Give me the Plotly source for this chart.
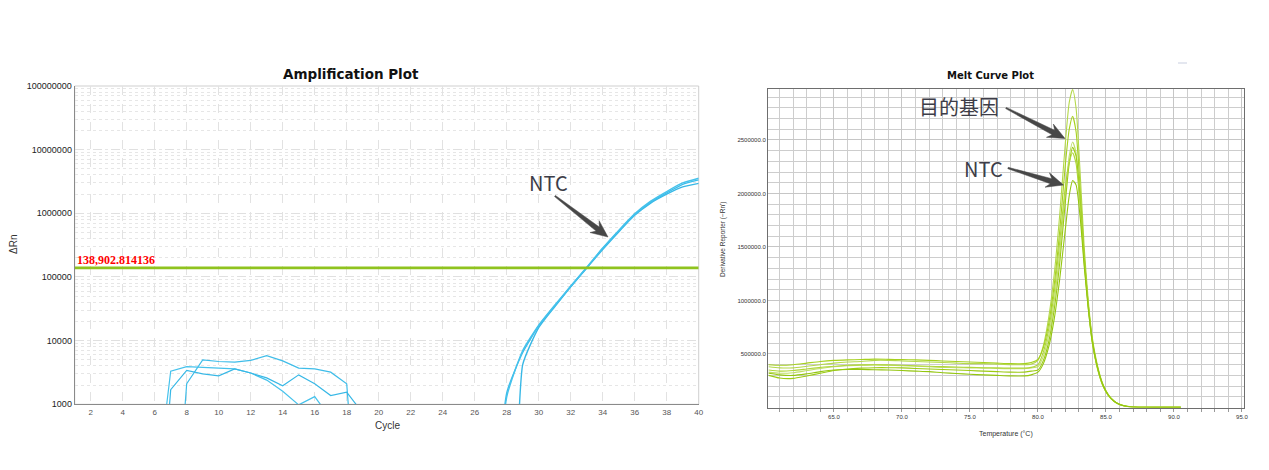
import math
import plotly.graph_objects as go

W, H = 1269, 470
OFF = 8                      # default page body margin
FW, FH = W - 2 * OFF, H - 2 * OFF

# ---------------- Amplification plot data ----------------
cycle_ticks = [2, 4, 6, 8, 10, 12, 14, 16, 18, 20, 22, 24, 26, 28, 30, 32, 34, 36, 38, 40]
rn_tickvals = [1000, 10000, 100000, 1000000, 10000000, 100000000]
rn_ticktext = ["1000", "10000", "100000", "1000000", "10000000", "100000000"]

threshold = 138902.814136
threshold_label = "138,902.814136"

noise_a_cycles = [7, 8, 9, 10, 11, 12, 13, 14, 15, 16, 17, 18, 19]
noise_a = [1, 2100, 5000, 4700, 4600, 4900, 5800, 4800, 3700, 3600, 3200, 2100, 1]

noise_b_cycles = [6, 7, 8, 9, 10, 11, 12, 13, 14, 15, 16, 17, 18]
noise_b = [27, 3300, 3900, 3800, 3700, 3600, 3100, 2400, 1600, 980, 1320, 600, 1]

noise_c_cycles = [6, 7, 8, 9, 10, 11, 12, 13, 14, 15, 16, 17, 18, 19, 20]
noise_c = [1, 1700, 3400, 3000, 2800, 3600, 3100, 2600, 1950, 2900, 2100, 1370, 1550, 730, 1]

ntc_cycles = [27, 28, 29, 30, 31, 32, 33, 34, 35, 36, 37, 38, 39, 40]
ntc_1 = [1, 1500, 6500, 17000, 35000, 71000, 140000, 280000, 530000, 960000, 1500000, 2100000, 2850000, 3350000]
ntc_2 = [1, 1300, 7000, 17500, 36000, 72000, 142000, 285000, 540000, 980000, 1550000, 2200000, 3000000, 3550000]
ntc_3 = [1, 1, 4200, 16000, 34000, 70000, 138000, 270000, 510000, 930000, 1450000, 2000000, 2600000, 2950000]

# ---------------- Melt curve data ----------------
melt_temp = [60.2, 61, 62, 63, 64, 65, 66, 67, 68, 69, 70, 71, 72, 73, 74, 75, 76, 77, 78, 79, 79.5,
             80, 80.4, 80.8, 81.2, 81.6, 82.0, 82.3, 82.55, 82.8, 83.1, 83.4, 83.7, 84.0,
             84.4, 84.8, 85.2, 85.6, 86.0, 86.5, 87, 88, 89, 90.5]

melt_1 = [380000, 370000, 370000, 385000, 400000, 415000, 425000, 430000, 440000, 440000, 435000,
          430000, 425000, 420000, 415000, 410000, 410000, 405000, 400000, 400000, 405000,
          440000, 580000, 850000, 1250000, 1800000, 2450000, 2850000, 2970000, 2800000, 2200000,
          1500000, 1000000, 650000, 380000, 210000, 115000, 60000, 30000, 12000, 5000, 2000, 1000, 1000]
melt_2 = [400000, 395000, 400000, 415000, 430000, 440000, 445000, 448000, 452000, 450000, 447000,
          445000, 440000, 435000, 430000, 425000, 420000, 415000, 410000, 410000, 420000,
          450000, 560000, 790000, 1150000, 1650000, 2250000, 2600000, 2720000, 2580000, 2050000,
          1420000, 960000, 620000, 360000, 200000, 110000, 58000, 28000, 11000, 5000, 2000, 1000, 1000]
melt_3 = [330000, 320000, 325000, 345000, 365000, 380000, 390000, 395000, 398000, 395000, 390000,
          385000, 380000, 375000, 372000, 370000, 368000, 365000, 362000, 362000, 370000,
          380000, 480000, 680000, 1000000, 1450000, 2000000, 2350000, 2480000, 2380000, 1950000,
          1380000, 940000, 610000, 355000, 195000, 105000, 55000, 27000, 10000, 4000, 2000, 1000, 1000]
melt_4 = [300000, 275000, 272000, 295000, 320000, 345000, 360000, 368000, 372000, 372000, 370000,
          365000, 360000, 355000, 350000, 345000, 340000, 335000, 330000, 330000, 340000,
          350000, 440000, 620000, 920000, 1350000, 1900000, 2280000, 2430000, 2350000, 1950000,
          1400000, 960000, 630000, 370000, 205000, 112000, 60000, 30000, 12000, 5000, 2000, 1000, 1000]
melt_5 = [350000, 340000, 345000, 360000, 375000, 385000, 395000, 398000, 400000, 398000, 395000,
          390000, 385000, 382000, 378000, 375000, 372000, 370000, 368000, 368000, 375000,
          400000, 520000, 740000, 1080000, 1550000, 2050000, 2290000, 2380000, 2280000, 1880000,
          1350000, 930000, 600000, 350000, 195000, 108000, 57000, 28000, 11000, 4000, 2000, 1000, 1000]
melt_6 = [320000, 305000, 300000, 315000, 335000, 350000, 355000, 355000, 352000, 350000, 345000,
          340000, 335000, 325000, 318000, 310000, 305000, 300000, 295000, 295000, 305000,
          330000, 410000, 570000, 830000, 1200000, 1650000, 1980000, 2120000, 2080000, 1780000,
          1320000, 920000, 610000, 360000, 200000, 110000, 58000, 29000, 11000, 5000, 2000, 1000, 1000]

temp_tickvals = [65, 70, 75, 80, 85, 90, 95]
temp_ticktext = ["65.0", "70.0", "75.0", "80.0", "85.0", "90.0", "95.0"]
deriv_tickvals = [500000, 1000000, 1500000, 2000000, 2500000]
deriv_ticktext = ["500000.0", "1000000.0", "1500000.0", "2000000.0", "2500000.0"]

# ---------------- Figure ----------------
AMP_BLUE = ["#3fbde9", "#45c2ec", "#38b8e6"]
MELT_GREEN = ["#b4d84a", "#a6d11f", "#c0df6a", "#9ccb14", "#b0d63a", "#94c60f"]

fig = go.Figure()

for (cx, cy, col) in [(noise_a_cycles, noise_a, AMP_BLUE[0]),
                      (noise_b_cycles, noise_b, AMP_BLUE[1]),
                      (noise_c_cycles, noise_c, AMP_BLUE[2])]:
    fig.add_trace(go.Scatter(x=cx, y=cy, mode="lines", line=dict(color=col, width=1.2),
                             xaxis="x", yaxis="y", hoverinfo="skip"))

for cy, col in [(ntc_3, AMP_BLUE[2]), (ntc_1, AMP_BLUE[0]), (ntc_2, AMP_BLUE[1])]:
    fig.add_trace(go.Scatter(x=ntc_cycles, y=cy, mode="lines",
                             line=dict(color=col, width=1.4, shape="spline", smoothing=0.5),
                             xaxis="x", yaxis="y", hoverinfo="skip"))

fig.add_trace(go.Scatter(x=[1, 40], y=[threshold, threshold], mode="lines",
                         line=dict(color="#8fc31f", width=2.6), xaxis="x", yaxis="y",
                         hoverinfo="skip"))

for cy, col in zip([melt_1, melt_2, melt_3, melt_4, melt_5, melt_6], MELT_GREEN):
    fig.add_trace(go.Scatter(x=melt_temp, y=cy, mode="lines",
                             line=dict(color=col, width=1.1, shape="spline", smoothing=0.6),
                             xaxis="x2", yaxis="y2", hoverinfo="skip"))


# pixel (screen) -> paper helpers
def px(x):
    return (x - OFF) / FW


def py(y):
    return 1 - (y - OFF) / FH


L_X0, L_X1, L_Y0, L_Y1 = 74.7, 698.7, 86, 404.3
R_X0, R_X1, R_Y0, R_Y1 = 768, 1244, 88.5, 407.5

fig.update_layout(
    width=FW, height=FH, margin=dict(l=0, r=0, t=0, b=0),
    paper_bgcolor="white", plot_bgcolor="white", showlegend=False,
    font=dict(family="Liberation Sans, Arial, sans-serif", color="#222"),
    xaxis=dict(domain=[px(L_X0), px(L_X1)], anchor="y", range=[1, 40],
               tickmode="array", tickvals=cycle_ticks,
               tickfont=dict(size=8, color="#555"),
               showgrid=True, gridcolor="#e2e2e2", griddash="dash", gridwidth=1,
               showline=True, linecolor="#8a8a8a", linewidth=1, zeroline=False,
               ticks="", automargin=False),
    yaxis=dict(domain=[py(L_Y1), py(L_Y0)], anchor="x", type="log", range=[3, 8],
               tickmode="array", tickvals=rn_tickvals, ticktext=rn_ticktext,
               tickfont=dict(size=9, color="#222"),
               showgrid=True, gridcolor="#e0e0e0", griddash="dash", gridwidth=1,
               minor=dict(dtick="D1", showgrid=True, gridcolor="#e6e6e6", griddash="dot", ticks=""),
               showline=True, linecolor="#8a8a8a", linewidth=1, zeroline=False,
               ticks="", automargin=False),
    xaxis2=dict(domain=[px(R_X0), px(R_X1)], anchor="y2", range=[60.15, 95.15],
                tickmode="array", tickvals=temp_tickvals, ticktext=temp_ticktext,
                tickfont=dict(size=6, color="#333"),
                showgrid=True, gridcolor="#c6c6c6", gridwidth=1,
                minor=dict(dtick=1, tick0=60, showgrid=True, gridcolor="#cdcdcd",
                           ticks="outside", ticklen=3, tickcolor="#999"),
                ticks="outside", ticklen=3, tickcolor="#999",
                showline=True, linecolor="#6e6e6e", linewidth=1, mirror=True,
                zeroline=False, automargin=False),
    yaxis2=dict(domain=[py(R_Y1), py(R_Y0)], anchor="x2", range=[0, 2980000],
                tickmode="array", tickvals=deriv_tickvals, ticktext=deriv_ticktext,
                tickfont=dict(size=6, color="#333"),
                showgrid=True, gridcolor="#c6c6c6", gridwidth=1,
                minor=dict(dtick=100000, showgrid=True, gridcolor="#cdcdcd", ticks=""),
                ticks="", showline=True, linecolor="#6e6e6e", linewidth=1, mirror=True,
                zeroline=False, automargin=False),
)

# light top/right frame on amplification plot
fig.add_shape(type="rect", xref="x domain", yref="y domain", x0=0, x1=1, y0=0, y1=1,
              line=dict(color="#cfcfcf", width=1), layer="below")


def label(text, x, y, size, color="#333", family=None, angle=0):
    f = dict(size=size, color=color)
    if family:
        f["family"] = family
    return dict(text=text, x=px(x), y=py(y), xref="paper", yref="paper",
                xanchor="center", yanchor="middle", textangle=angle,
                showarrow=False, font=f)


TITLE_FONT = "DejaVu Sans, Verdana, sans-serif"
CJK_FONT = "Noto Sans CJK SC, Noto Sans, sans-serif"

annotations = [
    label("<b>Amplification Plot</b>", 351, 74, 13.5, "#111", TITLE_FONT),
    label("<b>Melt Curve Plot</b>", 990, 75, 10, "#111", TITLE_FONT),
    label("ΔRn", 14, 245, 10, angle=-90),
    label("Cycle", 387, 425, 10),
    label("Derivative Reporter (−Rn')", 723, 240, 6.5, angle=-90),
    label("Temperature (°C)", 1006, 434, 7),
    dict(text="<b>" + threshold_label + "</b>", x=1, y=math.log10(threshold), xref="x", yref="y",
         xanchor="left", yanchor="bottom", yshift=-1, showarrow=False,
         font=dict(size=12, family="Liberation Serif, Times New Roman, serif", color="#ff0000")),
    label("NTC", 548, 182, 20, "#3d3d48", CJK_FONT),
    label("目的基因", 959, 106, 20, "#3d3d48", CJK_FONT),
    label("NTC", 983, 168, 20, "#3d3d48", CJK_FONT),
]
fig.update_layout(annotations=annotations)


def arrow_path(tail, tip, w_tail=0.7, w_shaft=2.6, head_len=17, head_w=7.5, notch=4):
    tx, ty = tail
    hx, hy = tip
    dx, dy = hx - tx, hy - ty
    ln = math.hypot(dx, dy)
    ux, uy = dx / ln, dy / ln
    nx, ny = -uy, ux
    jx, jy = hx - ux * (head_len - notch), hy - uy * (head_len - notch)
    bx, by = hx - ux * head_len, hy - uy * head_len
    pts = [
        (tx + nx * w_tail, ty + ny * w_tail),
        (jx + nx * w_shaft, jy + ny * w_shaft),
        (bx + nx * head_w, by + ny * head_w),
        (hx, hy),
        (bx - nx * head_w, by - ny * head_w),
        (jx - nx * w_shaft, jy - ny * w_shaft),
        (tx - nx * w_tail, ty - ny * w_tail),
    ]
    return "M " + " L ".join(f"{px(x):.5f},{py(y):.5f}" for x, y in pts) + " Z"


for tail, tip in [((555, 196), (608, 237)),
                  ((1006, 108), (1065, 138.5)),
                  ((1008, 168), (1063.5, 185))]:
    fig.add_shape(type="path", xref="paper", yref="paper", path=arrow_path(tail, tip),
                  fillcolor="#474747", line=dict(color="#474747", width=0.5))

# tiny mark at top right
fig.add_shape(type="line", xref="paper", yref="paper", x0=px(1178), x1=px(1187), y0=py(63), y1=py(63),
              line=dict(color="#c9cfe0", width=1))

fig.write_html("out.html")
